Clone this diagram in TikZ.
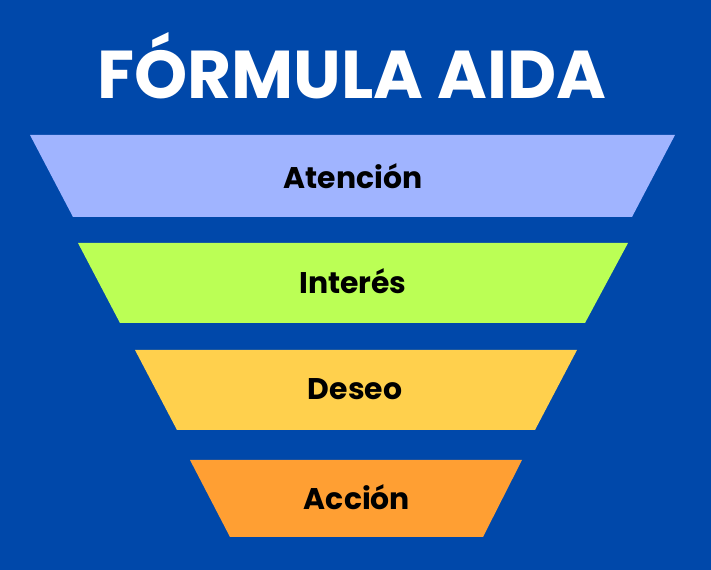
\documentclass[tikz,border=0pt]{standalone}
\usepackage{fontspec}
\setmainfont{Poppins}
\usetikzlibrary{positioning}
\definecolor{fondo}{RGB}{0,72,170}
\definecolor{atencion}{RGB}{160,180,255}
\definecolor{interes}{RGB}{187,255,85}
\definecolor{deseo}{RGB}{255,208,77}
\definecolor{accion}{RGB}{255,159,51}
\begin{document}
\begin{tikzpicture}[
        x=0.02cm, y=-0.02cm,
        capa/.style={draw=none},
        lab/.style={font=\fontsize{17}{20}\selectfont\bfseries, text=black},
        titulo/.style={font=\fontsize{38.5}{42}\selectfont\bfseries, text=white}
    ]
        \fill[fondo] (0,0) rectangle (711,570);
        \useasboundingbox (0,0) rectangle (711,570);

        \node[titulo] (t) at (352,66) {FÓRMULA AIDA};

        % capas del embudo
        \fill[capa, atencion] (30,135) -- (675,135) -- (632,217) -- (73,217) -- cycle;
        \fill[capa, interes] (78,243) -- (628,243) -- (585,323) -- (120,323) -- cycle;
        \fill[capa, deseo] (135,350) -- (577,350) -- (535,430) -- (177,430) -- cycle;
        \fill[capa, accion] (190,460) -- (522,460) -- (483,537) -- (230,537) -- cycle;

        \node[lab] (a1) at (353,176) {Atención};
        \node[lab] (a2) at (353,281) {Interés};
        \node[lab] (a3) at (355,389) {Deseo};
        \node[lab] (a4) at (357,497) {Acción};
    \end{tikzpicture}
\end{document}
